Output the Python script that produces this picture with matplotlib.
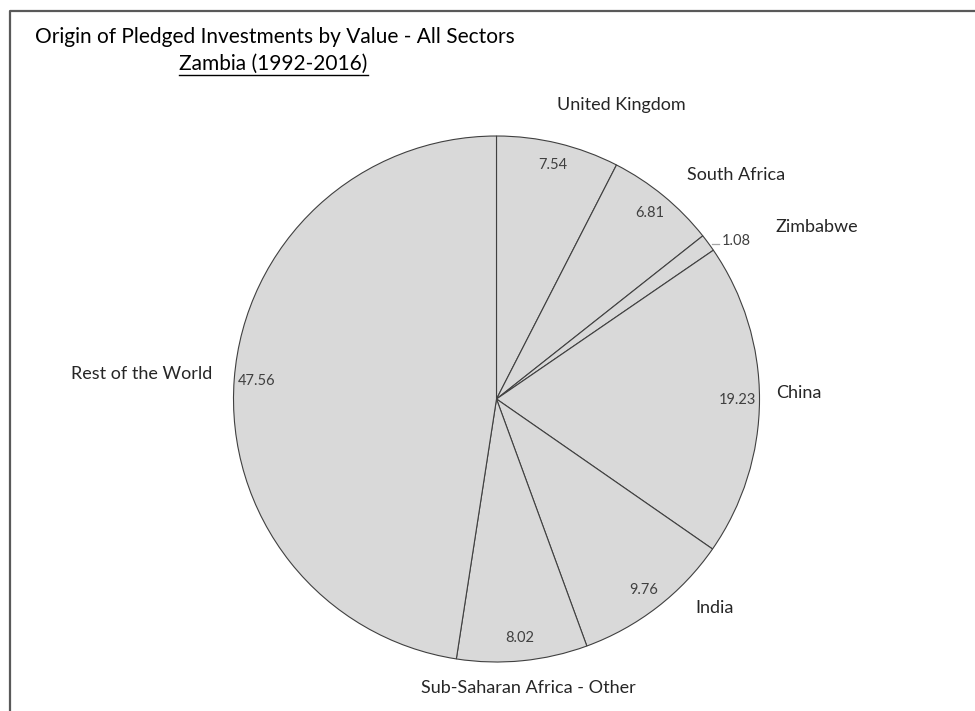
import numpy as np
import matplotlib.pyplot as plt

countries = ['United Kingdom', 'South Africa', 'Zimbabwe', 'China', 'India',
             'Sub-Saharan Africa - Other', 'Rest of the World']
values = [7.54, 6.81, 1.08, 19.23, 9.76, 8.02, 47.56]

W, H = 975, 711
fig = plt.figure(figsize=(W / 100, H / 100), dpi=100)
ax = fig.add_axes([0, 0, 1, 1])

# pie geometry in pixel units (y measured from the top)
cx, cy, R = 496.5, 399, 263

def py(y):
    return H - y

wedges, _ = ax.pie(values, startangle=90, counterclock=False,
                   center=(cx, py(cy)), radius=R,
                   colors=['#d9d9d9'] * len(values),
                   wedgeprops=dict(edgecolor='#404040', linewidth=0.8))

ax.set_xlim(0, W)
ax.set_ylim(0, H)
ax.set_aspect('auto')
ax.axis('off')

# category label offsets from the rim point of each slice
name_offsets = [(63, -38), (73, -21), (109, -16), (39, -7), (57, 1), (6, 27), (-93, -5)]

cum = np.cumsum([0] + values)
total = cum[-1]
for i, (name, val) in enumerate(zip(countries, values)):
    mid = 90 - 360 * (cum[i] + cum[i + 1]) / 2 / total
    c, s = np.cos(np.radians(mid)), np.sin(np.radians(mid))
    rx, ry = cx + R * c, cy - R * s

    dx, dy = name_offsets[i]
    ax.text(rx + dx, py(ry + dy), name, ha='center', va='center',
            fontsize=13, family='Lato', color='#262626')

    if val < 2:
        # small slice: value sits outside with a short leader
        ax.plot([rx + 4, rx + 11], [py(ry + 1), py(ry + 1)], color='#a6a6a6', lw=0.9)
        ax.text(rx + 28, py(ry - 2), f'{val:.2f}', ha='center', va='center',
                fontsize=10.5, family='Lato', color='#404040')
    else:
        ax.text(cx + 0.915 * R * c, py(cy - 0.915 * R * s), f'{val:.2f}',
                ha='center', va='center', fontsize=10.5, family='Lato',
                color='#404040')

# title block
ax.text(35, py(43), 'Origin of Pledged Investments by Value - All Sectors',
        ha='left', va='baseline', fontsize=15, family='Lato', color='#000000')
sub = ax.text(273.5, py(70), 'Zambia (1992-2016)', ha='center', va='baseline',
              fontsize=15, family='Lato', color='#000000')
fig.canvas.draw()
bb = sub.get_window_extent(fig.canvas.get_renderer())
ax.plot([bb.x0, bb.x1], [py(75), py(75)], color='#000000', lw=1.0)

# outer frame
ax.plot([10, 10, W], [0, py(11), py(11)], color='#595959', lw=1.6)

fig.savefig('out.png', dpi=100)
